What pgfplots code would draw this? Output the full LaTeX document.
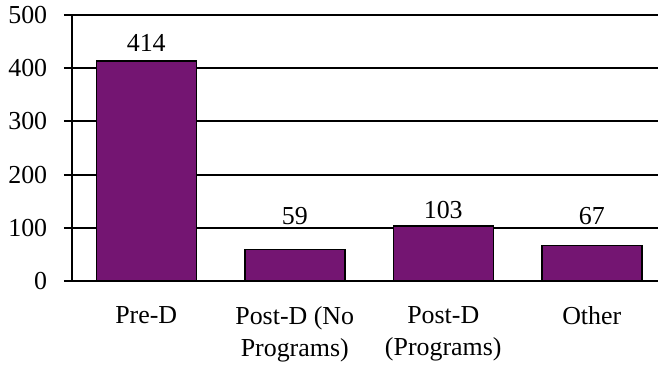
\documentclass[border=0pt]{standalone}
\usepackage{fontspec}
\setmainfont{Liberation Serif}
\usepackage{pgfplots}
\pgfplotsset{compat=1.18}
\definecolor{barpurple}{RGB}{116,21,114}
\begin{document}
\fontsize{26}{32}\selectfont
\begin{tikzpicture}
\begin{axis}[
  scale only axis,
  width=586bp, height=266bp,
  xmin=-0.5, xmax=3.446,
  ymin=0, ymax=500,
  axis x line*=bottom,
  axis y line*=left,
  axis line style={line width=2.4bp, black},
  ytick={0,100,...,500},
  ymajorgrids,
  major grid style={line width=2.1bp, black},
  major tick style={line width=2bp, black},
  minor tick style={line width=2bp, black},
  tick align=outside,
  major tick length=8bp,
  minor tick length=8bp,
  xtick={0,1,2,3},
  xticklabels={Pre-D, Post-D (No\\Programs), Post-D\\(Programs), Other},
  xtick style={draw=none},
  minor xtick={-0.5,0.5,1.5,2.5},
  xticklabel style={align=center, anchor=north, yshift=-9bp},
  yticklabel style={anchor=east, xshift=-8bp},
  /pgf/number format/assume math mode=true,
  ticklabel style={font=\fontsize{26}{32}\selectfont},
  clip=false,
]
% bars
\addplot[ybar, bar width=100bp, fill=barpurple, draw=black, line width=1.5bp]
  coordinates {(0,414) (1,59) (2,103) (3,67)};
% value labels, lifted clear of the gridlines
\addplot[draw=none, mark=none, nodes near coords, point meta=explicit symbolic,
  nodes near coords style={font=\fontsize{26}{28}\selectfont, anchor=center}]
  coordinates {(0,447)[414] (1,123)[59] (2,133)[103] (3,123)[67]};
\end{axis}
\pgfresetboundingbox
\path (-72bp,-85bp) rectangle (586bp,281bp);
\end{tikzpicture}
\end{document}
